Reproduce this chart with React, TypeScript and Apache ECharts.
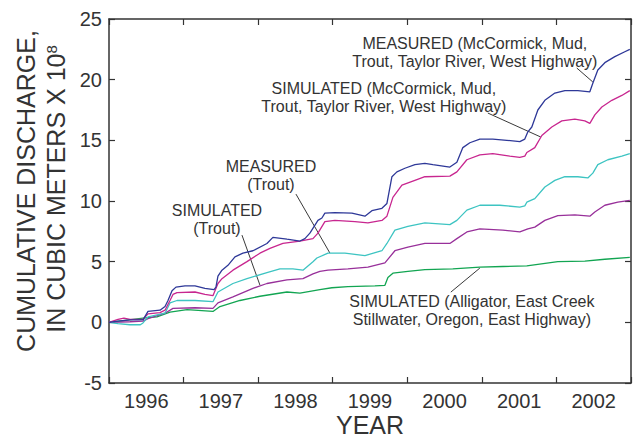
import React, { useEffect, useRef } from "react";
import * as echarts from "echarts";

// Year labels shown under the axis (one per water-year band)
const yearLabels = ["1996", "1997", "1998", "1999", "2000", "2001", "2002"];
const yearStart = 1996;
const yearEnd = 2003;
const valueMin = -5;
const valueMax = 25;
const valueStep = 5;

// Cumulative discharge, 10^8 m^3, as [decimal year, value]
const measuredCombined: [number, number][] = [
  [1996.0, 0.0], [1996.121, 0.1], [1996.282, 0.2], [1996.456, 0.2], [1996.523, 0.9],
  [1996.684, 1.0], [1996.751, 1.3], [1996.791, 1.8], [1996.845, 2.6], [1996.898, 2.9],
  [1997.019, 3.0], [1997.153, 3.0], [1997.287, 2.8], [1997.408, 2.7], [1997.434, 2.9],
  [1997.461, 3.8], [1997.515, 4.3], [1997.595, 4.7], [1997.689, 5.4], [1997.796, 5.7],
  [1997.93, 5.9], [1998.118, 6.5], [1998.198, 7.0], [1998.332, 6.9], [1998.386, 6.85],
  [1998.56, 6.7], [1998.627, 6.9], [1998.694, 7.35], [1998.802, 8.4], [1998.855, 8.6],
  [1998.895, 9.0], [1999.029, 9.05], [1999.257, 9.0], [1999.432, 8.75], [1999.525, 9.2],
  [1999.66, 9.4], [1999.727, 9.8], [1999.794, 12.0], [1999.861, 12.4], [1999.968, 12.7],
  [2000.102, 13.0], [2000.236, 13.1], [2000.343, 13.0], [2000.571, 12.8], [2000.665, 13.2],
  [2000.745, 14.4], [2000.839, 14.8], [2000.973, 15.1], [2001.147, 15.1], [2001.335, 15.0],
  [2001.509, 14.9], [2001.576, 15.1], [2001.617, 15.7], [2001.67, 16.1], [2001.751, 17.5],
  [2001.845, 18.3], [2001.979, 18.9], [2002.113, 19.1], [2002.287, 19.1], [2002.448, 19.0],
  [2002.488, 19.7], [2002.555, 20.8], [2002.649, 21.4], [2002.783, 21.9], [2002.917, 22.3],
  [2002.984, 22.5],
];

const simulatedCombined: [number, number][] = [
  [1996.0, 0.0], [1996.121, 0.25], [1996.2, 0.35], [1996.282, 0.25], [1996.456, 0.25],
  [1996.523, 0.7], [1996.684, 0.8], [1996.751, 1.0], [1996.818, 1.8], [1996.858, 2.3],
  [1996.912, 2.45], [1997.153, 2.5], [1997.287, 2.3], [1997.394, 2.2], [1997.461, 3.2],
  [1997.515, 3.6], [1997.662, 4.3], [1997.85, 5.0], [1998.024, 5.7], [1998.158, 6.1],
  [1998.332, 6.5], [1998.56, 6.7], [1998.735, 6.9], [1998.802, 7.35], [1998.895, 8.3],
  [1999.029, 8.4], [1999.298, 8.3], [1999.472, 8.2], [1999.66, 8.4], [1999.727, 8.75],
  [1999.807, 10.3], [1999.928, 11.3], [2000.102, 11.7], [2000.236, 12.0], [2000.571, 12.05],
  [2000.665, 12.4], [2000.799, 13.4], [2000.973, 13.8], [2001.147, 13.9], [2001.375, 13.7],
  [2001.509, 13.6], [2001.576, 13.7], [2001.603, 14.0], [2001.71, 14.4], [2001.804, 15.4],
  [2001.938, 16.1], [2002.072, 16.6], [2002.247, 16.75], [2002.381, 16.6], [2002.448, 16.4],
  [2002.515, 17.1], [2002.609, 17.75], [2002.743, 18.3], [2002.877, 18.7], [2002.984, 19.1],
];

const measuredTrout: [number, number][] = [
  [1996.0, 0.0], [1996.121, -0.1], [1996.282, -0.2], [1996.42, -0.2], [1996.456, -0.05],
  [1996.523, 0.45], [1996.751, 0.75], [1996.818, 1.6], [1996.912, 1.8], [1997.153, 1.8],
  [1997.394, 1.7], [1997.461, 2.5], [1997.662, 3.2], [1997.85, 3.6], [1998.118, 4.1],
  [1998.292, 4.4], [1998.466, 4.4], [1998.601, 4.3], [1998.735, 5.0], [1998.788, 5.3],
  [1998.936, 5.7], [1999.164, 5.7], [1999.432, 5.5], [1999.66, 5.9], [1999.727, 6.5],
  [1999.834, 7.6], [2000.008, 7.9], [2000.236, 8.2], [2000.571, 8.05], [2000.665, 8.4],
  [2000.799, 9.25], [2000.973, 9.65], [2001.241, 9.65], [2001.509, 9.5], [2001.576, 9.6],
  [2001.603, 9.9], [2001.71, 10.2], [2001.845, 11.15], [2001.979, 11.7], [2002.113, 12.0],
  [2002.287, 12.0], [2002.421, 11.9], [2002.488, 12.3], [2002.555, 13.0], [2002.689, 13.4],
  [2002.877, 13.7], [2002.984, 13.9],
];

const simulatedTrout: [number, number][] = [
  [1996.0, 0.0], [1996.282, 0.05], [1996.456, 0.1], [1996.523, 0.3], [1996.751, 0.75],
  [1996.858, 1.15], [1997.153, 1.2], [1997.394, 1.15], [1997.461, 1.6], [1997.662, 2.1],
  [1997.93, 2.8], [1998.118, 3.2], [1998.386, 3.5], [1998.601, 3.6], [1998.735, 4.0],
  [1998.828, 4.2], [1998.936, 4.3], [1999.204, 4.4], [1999.472, 4.55], [1999.7, 4.9],
  [1999.834, 5.9], [2000.008, 6.2], [2000.236, 6.5], [2000.571, 6.5], [2000.665, 6.9],
  [2000.799, 7.45], [2000.973, 7.7], [2001.282, 7.6], [2001.509, 7.45], [2001.617, 7.7],
  [2001.71, 7.85], [2001.845, 8.4], [2002.019, 8.8], [2002.247, 8.85], [2002.448, 8.75],
  [2002.515, 9.1], [2002.649, 9.65], [2002.823, 9.9], [2002.984, 10.05],
];

const simulatedEast: [number, number][] = [
  [1996.0, 0.0], [1996.456, 0.35], [1996.643, 0.45], [1996.818, 0.85], [1997.046, 1.05],
  [1997.394, 0.9], [1997.488, 1.3], [1997.756, 1.8], [1998.024, 2.15], [1998.386, 2.5],
  [1998.56, 2.4], [1998.828, 2.7], [1998.989, 2.85], [1999.204, 2.95], [1999.566, 3.0],
  [1999.7, 3.05], [1999.74, 3.7], [1999.807, 4.05], [2000.008, 4.2], [2000.236, 4.35],
  [2000.611, 4.4], [2000.973, 4.55], [2001.282, 4.6], [2001.603, 4.65], [2002.019, 5.0],
  [2002.381, 5.05], [2002.649, 5.2], [2002.984, 5.35],
];

// Callout text blocks: text, centre and leader line, all in data coordinates
const callouts = [
  {
    text: "MEASURED (McCormick, Mud,\nTrout, Taylor River, West Highway)",
    at: [2000.906, 22.28], from: [2002.273, 20.96], to: [2002.488, 19.81],
  },
  {
    text: "SIMULATED (McCormick, Mud,\nTrout, Taylor River, West Highway)",
    at: [1999.686, 18.57], from: [2001.08, 17.25], to: [2001.791, 15.27],
  },
  {
    text: "MEASURED\n(Trout)",
    at: [1998.172, 12.1], from: [1998.507, 10.57], to: [1998.962, 5.71],
  },
  {
    text: "SIMULATED\n(Trout)",
    at: [1997.448, 8.51], from: [1997.783, 7.19], to: [1998.024, 3.07],
  },
  {
    text: "SIMULATED (Alligator, East Creek\nStillwater, Oregon, East Highway)",
    at: [2000.866, 1.01], from: [2000.584, 2.49], to: [2000.973, 4.47],
  },
];

const FONT = '"Liberation Sans", Arial, Helvetica, sans-serif';
const INK = "#333333";

export default function App() {
  const ref = useRef<HTMLDivElement>(null);

  useEffect(() => {
    if (!ref.current) return;
    const chart = echarts.init(ref.current, undefined, { renderer: "svg" });

    const frameLine = { show: true, onZero: false, lineStyle: { color: INK, width: 1.5 } };
    const innerTick = { show: true, inside: true, length: 6, lineStyle: { color: INK, width: 1.2 } };

    const line = (name: string, data: [number, number][], color: string) => ({
      name,
      type: "line",
      data,
      xAxisIndex: 0,
      yAxisIndex: 0,
      showSymbol: false,
      symbol: "none",
      lineStyle: { color, width: 1.3 },
      silent: true,
    });

    chart.setOption({
      animation: false,
      grid: {
        left: 109, right: 2, top: 19, bottom: 57,
        containLabel: false, outerBoundsMode: "none",
      },
      xAxis: [
        {
          type: "value", position: "bottom", min: yearStart, max: yearEnd, interval: 1,
          axisLine: frameLine, axisTick: innerTick, axisLabel: { show: false }, splitLine: { show: false },
        },
        {
          type: "category", position: "bottom", data: yearLabels, boundaryGap: true,
          axisLine: { show: false }, axisTick: { show: false },
          axisLabel: { color: INK, fontSize: 20, fontFamily: FONT, margin: 8 },
        },
        {
          type: "value", position: "top", min: yearStart, max: yearEnd, interval: 1,
          axisLine: frameLine, axisTick: innerTick, axisLabel: { show: false }, splitLine: { show: false },
        },
      ],
      yAxis: [
        {
          type: "value", position: "left", min: valueMin, max: valueMax, interval: valueStep,
          axisLine: frameLine, axisTick: innerTick, splitLine: { show: false },
          axisLabel: { color: INK, fontSize: 20, fontFamily: FONT, margin: 7 },
        },
        {
          type: "value", position: "right", min: valueMin, max: valueMax, interval: valueStep,
          axisLine: frameLine, axisTick: innerTick, splitLine: { show: false },
          axisLabel: { show: false },
        },
      ],
      series: [
        line("Simulated (Alligator, East Creek, Stillwater, Oregon, East Highway)", simulatedEast, "#12a552"),
        line("Simulated (Trout)", simulatedTrout, "#98309a"),
        line("Measured (Trout)", measuredTrout, "#3dc4c2"),
        line("Simulated (McCormick, Mud, Trout, Taylor River, West Highway)", simulatedCombined, "#c8268f"),
        line("Measured (McCormick, Mud, Trout, Taylor River, West Highway)", measuredCombined, "#2e3898"),
      ],
    });

    const px = (p: number[]) => chart.convertToPixel({ xAxisIndex: 0, yAxisIndex: 0 }, p) as number[];

    const graphics: any[] = [];
    callouts.forEach((c) => {
      const a = px(c.at);
      const f = px(c.from);
      const t = px(c.to);
      graphics.push({
        type: "text",
        x: a[0],
        y: a[1],
        silent: true,
        style: {
          text: c.text, align: "center", verticalAlign: "middle",
          fontSize: 16, lineHeight: 18, fontFamily: FONT, fill: INK,
        },
      });
      graphics.push({
        type: "line",
        silent: true,
        shape: { x1: f[0], y1: f[1], x2: t[0], y2: t[1] },
        style: { stroke: "#222", lineWidth: 0.9 },
      });
    });

    // Horizontal axis title, centred under the plot
    const left = px([yearStart, valueMin]);
    const right = px([yearEnd, valueMin]);
    graphics.push({
      type: "text", x: (left[0] + right[0]) / 2, y: 425, silent: true,
      style: {
        text: "YEAR", align: "center", verticalAlign: "middle",
        fontSize: 25, fontFamily: FONT, fill: INK,
      },
    });

    // Rotated two-line value-axis title
    graphics.push({
      type: "text", x: 26, y: 191, rotation: Math.PI / 2, silent: true,
      style: {
        text: "CUMULATIVE DISCHARGE,", align: "center", verticalAlign: "middle",
        fontSize: 25, fontFamily: FONT, fill: INK,
      },
    });
    graphics.push({
      type: "text", x: 56, y: 189, rotation: Math.PI / 2, silent: true,
      style: {
        text: "IN CUBIC METERS X 10{sup|8}", align: "center", verticalAlign: "middle",
        fontSize: 25, fontFamily: FONT, fill: INK,
        rich: {
          sup: { fontSize: 15, fontFamily: FONT, fill: INK, verticalAlign: "top", lineHeight: 25 },
        },
      },
    });

    chart.setOption({ graphic: graphics });

    return () => chart.dispose();
  }, []);

  return (
    <div
      ref={ref}
      style={{ position: "absolute", left: 0, top: 0, width: 633, height: 440, background: "#fff" }}
    />
  );
}
